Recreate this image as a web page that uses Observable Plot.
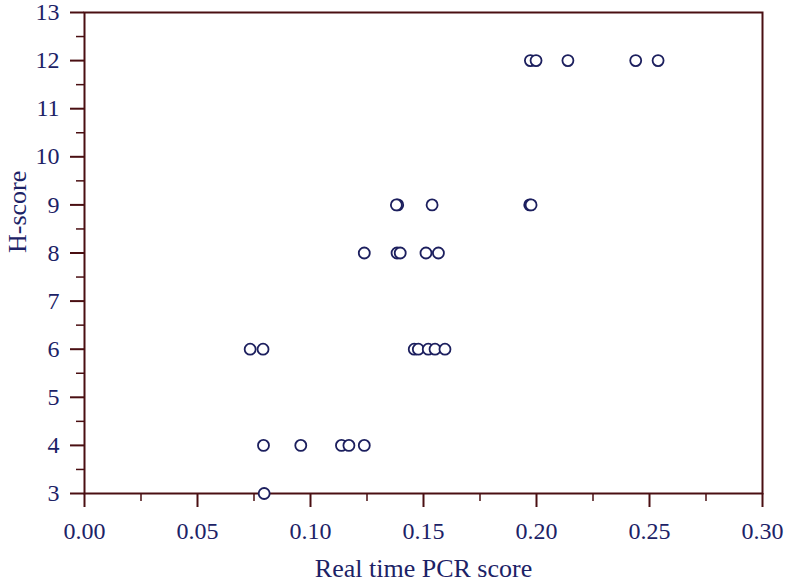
<!DOCTYPE html>
<html>
<head>
<meta charset="utf-8">
<script src="https://cdn.jsdelivr.net/npm/d3@7"></script>
<script src="https://cdn.jsdelivr.net/npm/@observablehq/plot@0.6"></script>
<style>
  html, body { margin: 0; padding: 0; background: #fff; }
  #chart svg, #chart svg text { font-family: 'Liberation Serif', 'DejaVu Serif', serif !important; }
  #chart g[aria-label$="tick label"] text { font-size: 24px !important; }
</style>
</head>
<body>
<div id="chart"></div>
<script>
// Real time PCR score (x) and H-score (y) for each case
const pcrScore = [
  0.1973, 0.1998, 0.2139, 0.2439, 0.2538,
  0.1386, 0.1380, 0.1538, 0.1970, 0.1976,
  0.1238, 0.1383, 0.1397, 0.1511, 0.1566,
  0.0733, 0.0790, 0.1459, 0.1477, 0.1521, 0.1551, 0.1595,
  0.0792, 0.0957, 0.1137, 0.1170, 0.1238,
  0.0795
];
const hScore = [
  12, 12, 12, 12, 12,
  9, 9, 9, 9, 9,
  8, 8, 8, 8, 8,
  6, 6, 6, 6, 6, 6, 6,
  4, 4, 4, 4, 4,
  3
];
const xMajorTicks = [0, 0.05, 0.10, 0.15, 0.20, 0.25, 0.30];
const xMinorTicks = [0.025, 0.075, 0.125, 0.175, 0.225, 0.275];
const yMajorTicks = [3, 4, 5, 6, 7, 8, 9, 10, 11, 12, 13];
const yMinorTicks = [3.5, 4.5, 5.5, 6.5, 7.5, 8.5, 9.5, 10.5, 11.5, 12.5];
const xTitle = "Real time PCR score";
const yTitle = "H-score";

const points = pcrScore.map((x, i) => ({x, y: hScore[i]}));

const axisColor = "#4a0f12";
const textColor = "#1c2266";
const font = "'Liberation Serif', 'DejaVu Serif', serif";

const chart = Plot.plot({
  width: 787,
  height: 582,
  marginLeft: 84,
  marginRight: 25,
  marginTop: 12,
  marginBottom: 89,
  style: {fontFamily: font, fontSize: "24px", color: textColor, background: "#fff"},
  x: {domain: [0, 0.30], axis: null},
  y: {domain: [3, 13], axis: null},
  marks: [
    Plot.axisX(xMinorTicks, {tickSize: 8, tickFormat: () => "", stroke: axisColor, strokeWidth: 1.5, label: null}),
    Plot.axisX(xMajorTicks, {tickSize: 14, tickPadding: 14, tickFormat: d3.format(".2f"), stroke: axisColor, strokeWidth: 2, fill: textColor, fontSize: 24, label: null}),
    Plot.axisY(yMinorTicks, {tickSize: 8, tickFormat: () => "", stroke: axisColor, strokeWidth: 1.5, label: null}),
    Plot.axisY(yMajorTicks, {tickSize: 14, tickPadding: 11, tickFormat: d3.format("d"), stroke: axisColor, strokeWidth: 2, fill: textColor, fontSize: 24, label: null}),
    Plot.frame({stroke: axisColor, strokeWidth: 2}),
    Plot.dot(points, {x: "x", y: "y", r: 5.5, stroke: "#1c1f5e", strokeWidth: 1.8, fill: "white"}),
    Plot.text([xTitle], {frameAnchor: "bottom", lineAnchor: "middle", dy: 75, fontSize: 26, fill: textColor}),
    Plot.text([yTitle], {frameAnchor: "left", lineAnchor: "middle", dx: -67, rotate: -90, fontSize: 26, fill: textColor})
  ]
});
document.getElementById("chart").appendChild(chart);
</script>
</body>
</html>
